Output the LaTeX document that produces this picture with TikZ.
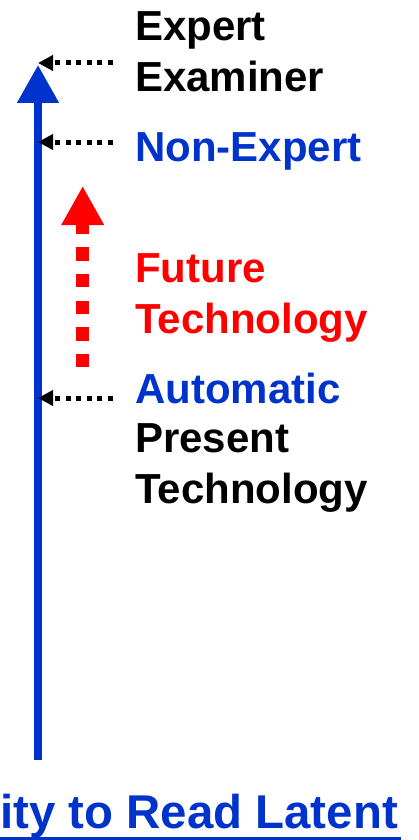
\documentclass[tikz,border=0pt]{standalone}
\usepackage{fontspec}
\setmainfont{Liberation Sans}
\usetikzlibrary{arrows.meta}
\definecolor{scaleblue}{RGB}{0,51,204}
\definecolor{futurered}{RGB}{255,0,0}
\begin{document}
\begin{tikzpicture}[x=1pt,y=-1pt,
  label/.style={anchor=base west,inner sep=0pt,align=left,
    font=\fontsize{42}{51}\selectfont\bfseries},
  pointer/.style={line width=5pt,dash pattern=on 5pt off 5.6pt,
    -{Triangle[length=15pt,width=15pt]}},
  mainaxis/.style={draw=scaleblue,line width=8pt,
    -{Triangle[length=38pt,width=40pt]}},
  future/.style={draw=futurered,line width=13pt,dash pattern=on 13.33pt off 13.33pt,
    -{Triangle[length=39pt,width=40pt]}}]
\useasboundingbox (0,0) rectangle (418,840);

% labels along the scale (base anchor sits on the last line)
\node[label] (expert) at (135,92) {Expert\\Examiner};
\node[label,text=scaleblue] (nonexpert) at (135,161) {Non-Expert};
\node[label,text=futurered] (futuretech) at (135,333) {Future\\Technology};
\node[label,text=scaleblue] (automatic) at (135,403) {Automatic};
\node[label] (present) at (135,503) {Present\\Technology};

% axis caption
\node[anchor=base west,inner sep=0pt,text=scaleblue,
  font=\fontsize{47.4}{50}\selectfont\bfseries] (caption) at (0,828) {ity to Read Latent};
\draw[scaleblue,line width=3pt] (0,838.5) -- ([xshift=3pt]caption.base east |- 0,838.5);

% vertical scale
\coordinate (axisfoot) at (38,760);
\coordinate (axistop) at (38,65);
\draw[mainaxis] (axisfoot) -- (axistop);

% level markers
\coordinate (m1s) at (113,63);  \coordinate (m1e) at (38,63);
\coordinate (m2s) at (113,142); \coordinate (m2e) at (38,142);
\coordinate (m3s) at (113,398); \coordinate (m3e) at (38,398);
\draw[pointer] (m1s) -- (m1e);
\draw[pointer] (m2s) -- (m2e);
\draw[pointer] (m3s) -- (m3e);

% progress of technology
\coordinate (fbase) at (82.7,367.3);
\coordinate (ftip) at (82.7,186);
\draw[future] (fbase) -- (ftip);
\end{tikzpicture}
\end{document}
